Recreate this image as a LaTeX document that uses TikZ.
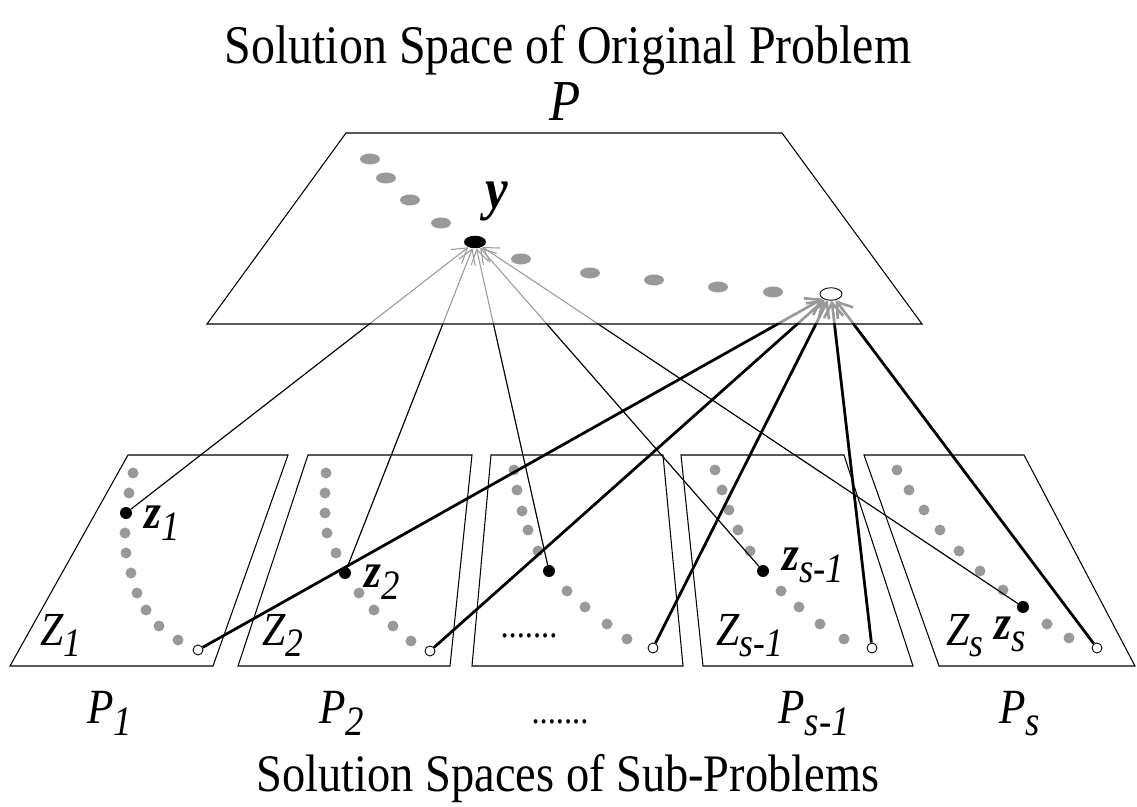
\documentclass[tikz,border=0pt]{standalone}
\usepackage{fontspec}
\setmainfont{Liberation Serif}
\usetikzlibrary{shapes.geometric,arrows.meta}
\definecolor{dotgray}{HTML}{999999}
\newcommand{\sbs}[1]{\raisebox{-0.24em}{\scalebox{0.85}{\textit{#1}}}}

\begin{document}
\begin{tikzpicture}[x=0.02cm, y=-0.02cm,
    txt/.style={inner sep=0pt, xscale=0.88},
    big/.style={txt, font=\fontsize{31}{36}\selectfont},
    plbl/.style={txt, font=\fontsize{28}{32}\selectfont},
    mid/.style={txt, font=\fontsize{27}{30}\selectfont},
    small/.style={txt, font=\fontsize{28}{30}\selectfont},
    gell/.style={ellipse, fill=dotgray, inner sep=0pt, minimum width=0.4cm, minimum height=0.22cm},
    gdot/.style={circle, fill=dotgray, inner sep=0pt, minimum size=0.22cm},
    bdot/.style={circle, fill=black, inner sep=0pt, minimum size=0.24cm},
    odot/.style={circle, draw, fill=white, inner sep=0pt, minimum size=0.2cm, line width=0.5pt},
    sol/.style={ellipse, inner sep=0pt, minimum width=0.44cm, minimum height=0.25cm},
    conn/.style={dotgray, line width=0.6pt, -{Straight Barb[length=8pt,width=10pt]}},
    thickconn/.style={dotgray, line width=1.5pt, -{Straight Barb[length=8pt,width=11pt]}},
    plane/.style={line width=0.6pt}
]
\useasboundingbox (0,0) rectangle (1137,807);

% --- titles ---
\node[big, anchor=base] (title) at (568,64) {Solution Space of Original Problem};
\node[txt, font=\fontsize{33}{36}\selectfont, anchor=base] (ptop) at (565,121) {\textit{P}};
\node[txt, font=\fontsize{30}{34}\selectfont, anchor=base] (subtitle) at (568,791) {Solution Spaces of Sub-Problems};

% --- original problem plane ---
\draw[plane] (346,133) -- (782,133) -- (922,324) -- (207,324) -- cycle;
\foreach \px/\py in {370/159, 386/178, 410/200, 441/223, 521/259, 590/273, 654/280, 718/287, 773/292}
  \node[gell] at (\px,\py) {};
\node[sol, fill=black] (y) at (475,242) {};
\node[sol, draw, fill=white, line width=0.5pt] (o) at (831,294) {};
\node[txt, font=\fontsize{33}{36}\selectfont\bfseries\itshape, anchor=base] (ylbl) at (497,209) {y};

% --- sub-problem planes ---
\draw[plane] (128,455) -- (288,455) -- (213,666) -- (10,666) -- cycle;
\draw[plane] (308,455) -- (472,455) -- (450,666) -- (238,666) -- cycle;
\draw[plane] (491,455) -- (663,455) -- (683,666) -- (472,666) -- cycle;
\draw[plane] (681,455) -- (844,455) -- (913,666) -- (703,666) -- cycle;
\draw[plane] (864,455) -- (1024,455) -- (1135,666) -- (939,666) -- cycle;

% gray solutions
\foreach \px/\py in {133/473, 129/493, 125/533, 126/553, 131/573, 137/593, 146/610, 159/626, 178/640,
                     326/473, 325/493, 325/513, 327/533, 336/553, 359/593, 374/610, 393/626, 411/641,
                     514/470, 517/490, 522/511, 528/530, 538/551, 567/591, 585/607, 607/624, 627/639,
                     715/470, 722/490, 729/510, 738/530, 750/551, 781/591, 799/607, 820/624, 844/639,
                     897/470, 909/490, 924/510, 940/530, 959/551, 980/571, 1003/590, 1047/624, 1069/638}
  \node[gdot] at (\px,\py) {};

% chosen solutions
\node[bdot] (z1) at (126,513) {};
\node[bdot] (z2) at (345,573) {};
\node[bdot] (z3) at (549,571) {};
\node[bdot] (zs1) at (763,571) {};
\node[bdot] (zs) at (1023,607) {};

\node[odot] (e1) at (198,650) {};
\node[odot] (e2) at (430,651) {};
\node[odot] (e3) at (653,648) {};
\node[odot] (e4) at (872,648) {};
\node[odot] (e5) at (1097,648) {};

% --- connectors ---
\foreach \n in {z1,z2,z3,zs1,zs}
  \draw[conn] (\n) -- (y);
\foreach \n in {e1,e2,e3,e4,e5}
  \draw[thickconn] (\n) -- (o);
\begin{scope}
  \clip (0,324) rectangle (1137,807);
  \foreach \n in {z1,z2,z3,zs1,zs}
    \draw[line width=0.6pt] (\n) -- (y);
  \foreach \n in {e1,e2,e3,e4,e5}
    \draw[line width=1.5pt] (\n) -- (o);
\end{scope}

% --- labels ---
\node[small, anchor=base west] (lz1) at (144,529) {\textbf{\textit{z}}\sbs{1}};
\node[small, anchor=base west] (lz2) at (364,588) {\textbf{\textit{z}}\sbs{2}};
\node[small, anchor=base west] (lzs1) at (782,571) {\textbf{\textit{z}}\sbs{s-1}};
\node[small, anchor=base west] (lzs) at (994,640) {\textbf{\textit{z}}\sbs{s}};

\node[mid, anchor=base west] (lZ1) at (40,645) {\textit{Z}\sbs{1}};
\node[mid, anchor=base west] (lZ2) at (262,645) {\textit{Z}\sbs{2}};
\node[txt, font=\fontsize{21}{24}\selectfont, anchor=base] (ldots) at (529,638) {.......};
\node[mid, anchor=base west] (lZs1) at (716,645) {\textit{Z}\sbs{s-1}};
\node[mid, anchor=base west] (lZs) at (946,645) {\textit{Z}\sbs{s}};

\node[plbl, anchor=base west] (p1) at (87,724) {\textit{P}\sbs{1}};
\node[plbl, anchor=base west] (p2) at (319,724) {\textit{P}\sbs{2}};
\node[txt, font=\fontsize{21}{24}\selectfont, anchor=base] (pdots) at (560,724) {.......};
\node[plbl, anchor=base west] (ps1) at (778,724) {\textit{P}\sbs{s-1}};
\node[plbl, anchor=base west] (ps) at (999,724) {\textit{P}\sbs{s}};
\end{tikzpicture}
\end{document}
